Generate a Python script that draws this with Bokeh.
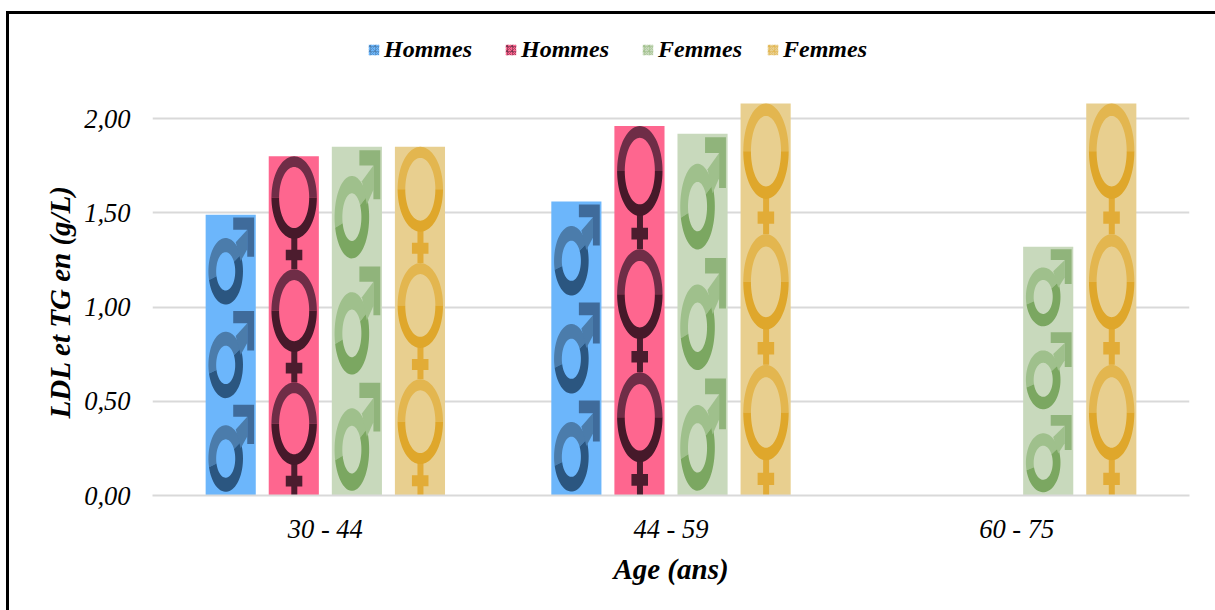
import math

from bokeh.embed import file_html
from bokeh.models import ColumnDataSource, FixedTicker, Legend, LegendItem, Range1d, Title
from bokeh.plotting import figure
from bokeh.resources import INLINE

# Mean concentrations by age class
age_groups = ["30 - 44", "44 - 59", "60 - 75"]
hommes_ldl = [1.49, 1.56, 0.0]
hommes_tg = [1.80, 1.96, 0.0]
femmes_ldl = [1.85, 1.92, 1.32]
femmes_tg = [1.85, 2.08, 2.08]

series_labels = ["Hommes", "Hommes", "Femmes", "Femmes"]
y_tick_values = [0, 0.5, 1, 1.5, 2]
y_tick_labels = ["0,00", "0,50", "1,00", "1,50", "2,00"]

SERIES = [
    # values, symbol, bar colour, (light tone, dark tone, third tone)
    (hommes_ldl, "male", "#6cb6fb", ("#4b7cab", "#2b5680", "#3f6b9b")),
    (hommes_tg, "female", "#fe668f", ("#6f2d47", "#46192a", "#4c1c2e")),
    (femmes_ldl, "male", "#c8d9bc", ("#9fc08c", "#7ba761", "#90b47b")),
    (femmes_tg, "female", "#e8cf8f", ("#e3b64f", "#dfa72b", "#e2ac37")),
]

BAR_WIDTH = 0.1450
BAR_PITCH = 0.1825
TILES_PER_BAR = 3
FONT = "Liberation Serif"


def arc_band(cu, cv, a_out, b_out, a_in, b_in, start, stop, steps=40):
    """Piece of an elliptical ring in tile coordinates, angles in degrees."""
    angles = [math.radians(start + (stop - start) * i / steps) for i in range(steps + 1)]
    outer = [(cu + a_out * math.cos(t), cv - b_out * math.sin(t)) for t in angles]
    inner = [(cu + a_in * math.cos(t), cv - b_in * math.sin(t)) for t in reversed(angles)]
    return outer + inner


def male_shapes(tones):
    light, dark, mid = tones
    return [
        (arc_band(0.40, 0.605, 0.345, 0.355, 0.19, 0.205, 30, 195), light),
        (arc_band(0.40, 0.605, 0.345, 0.355, 0.19, 0.205, 195, 390), dark),
        ([(0.60, 0.295), (0.83, 0.16), (0.83, 0.37), (0.70, 0.495)], light),
        ([(0.55, 0.03), (0.967, 0.03), (0.967, 0.45), (0.83, 0.45),
          (0.83, 0.16), (0.55, 0.16)], mid),
    ]


def female_shapes(tones):
    light, dark, mid = tones
    return [
        ([(0.45, 0.72), (0.57, 0.72), (0.57, 0.826), (0.67, 0.826), (0.67, 0.92),
          (0.57, 0.92), (0.57, 1.0), (0.45, 1.0), (0.45, 0.92), (0.34, 0.92),
          (0.34, 0.826), (0.45, 0.826)], mid),
        (arc_band(0.507, 0.365, 0.453, 0.365, 0.30, 0.27, 0, 180), light),
        (arc_band(0.507, 0.365, 0.453, 0.365, 0.30, 0.27, 180, 360), dark),
    ]


# The plot area reaches up to the legend, which sits above the 2,00 grid line.
# The 3px frame edge is added to the canvas height by the content-box sizing.
PIXELS_PER_UNIT = 188.46
FIG_HEIGHT = 596
FRAME_EDGE = 3
BORDER_TOP = 10
BORDER_BOTTOM = 118
y_end = (FIG_HEIGHT + FRAME_EDGE - BORDER_TOP - BORDER_BOTTOM) / PIXELS_PER_UNIT

p = figure(width=1206, height=FIG_HEIGHT, output_backend="svg", toolbar_location=None,
           x_range=Range1d(0, 3), y_range=Range1d(0, y_end),
           min_border_left=143, min_border_right=29,
           min_border_top=BORDER_TOP, min_border_bottom=BORDER_BOTTOM,
           outline_line_color=None, background_fill_color="white",
           border_fill_color="white", margin=(11, 0, 0, 6),
           styles={"border-top": f"{FRAME_EDGE}px solid black",
                   "border-left": f"{FRAME_EDGE}px solid black",
                   "box-sizing": "content-box"})

items = []
for index, (values, symbol, colour, tones) in enumerate(SERIES):
    offset = (index - 1.5) * BAR_PITCH
    centres = [g + 0.5 + offset for g in range(len(values))]
    source = ColumnDataSource({"x": centres, "top": values})
    p.vbar(x="x", top="top", bottom=0, width=BAR_WIDTH, source=source,
           fill_color=colour, line_color=None)

    # Each bar holds a stack of symbols stretched to a third of its height
    xs, ys, fills = [], [], []
    shapes = male_shapes(tones) if symbol == "male" else female_shapes(tones)
    for centre, height in zip(centres, values):
        if height <= 0:
            continue
        tile = height / TILES_PER_BAR
        left = centre - BAR_WIDTH / 2
        for n in range(TILES_PER_BAR):
            tile_top = height - n * tile
            for points, fill in shapes:
                xs.append([left + u * BAR_WIDTH for u, _ in points])
                ys.append([tile_top - v * tile for _, v in points])
                fills.append(fill)
    p.patches(xs, ys, fill_color=fills, line_color=None)

    # Legend key: a flat hatched bar stands for the symbol fill
    key = p.vbar(x="x", top=0, bottom=0, width=BAR_WIDTH, source=source,
                 fill_color=colour, line_color=None,
                 hatch_pattern="criss_cross", hatch_color=tones[0], hatch_scale=5,
                 hatch_weight=0.6)
    items.append(LegendItem(label=series_labels[index], renderers=[key]))

legend_style = dict(orientation="horizontal", border_line_color=None,
                    background_fill_alpha=0, padding=0, margin=0,
                    glyph_width=13, glyph_height=13, label_standoff=4, spacing=32,
                    label_text_font=FONT, label_text_font_style="bold italic",
                    label_text_font_size="24px", label_text_color="black")
p.add_layout(Legend(items=items[:3], location=(215, 432), **legend_style))
p.add_layout(Legend(items=items[3:], location=(614, 432), **legend_style))

p.xgrid.visible = False
p.ygrid.grid_line_color = "#d9d9d9"
p.ygrid.grid_line_width = 2
p.ygrid.ticker = FixedTicker(ticks=y_tick_values)

p.xaxis.ticker = FixedTicker(ticks=[g + 0.5 for g in range(len(age_groups))])
p.xaxis.major_label_overrides = {g + 0.5: name for g, name in enumerate(age_groups)}
p.xaxis.axis_line_color = "#d9d9d9"
p.xaxis.axis_line_width = 2
p.xaxis.axis_label = "Age (ans)"
p.xaxis.major_label_standoff = 12
p.xaxis.axis_label_standoff = 6

p.yaxis.ticker = FixedTicker(ticks=y_tick_values)
p.yaxis.major_label_overrides = dict(zip(y_tick_values, y_tick_labels))
p.yaxis.axis_line_color = None
p.yaxis.major_label_standoff = 16

# Left-hand title anchored so that it centres on the span of the bars
p.add_layout(Title(text="LDL et TG en (g/L)", align="left", offset=77, standoff=11,
                   text_font=FONT, text_font_style="bold italic",
                   text_font_size="29px", text_color="black"), "left")

for axis in (p.xaxis[0], p.yaxis[0]):
    axis.major_tick_line_color = None
    axis.minor_tick_line_color = None
    axis.major_label_text_font = FONT
    axis.major_label_text_font_style = "italic"
    axis.major_label_text_font_size = "26.5px"
    axis.major_label_text_color = "black"
    axis.axis_label_text_font = FONT
    axis.axis_label_text_font_style = "bold italic"
    axis.axis_label_text_font_size = "29px"
    axis.axis_label_text_color = "black"

open("out.html", "w").write(file_html(p, INLINE))
